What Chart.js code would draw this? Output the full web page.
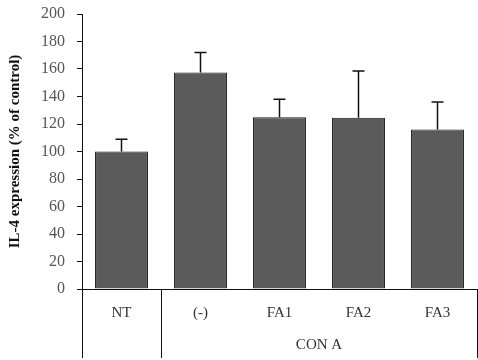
<!DOCTYPE html>
<html>
<head>
<meta charset="utf-8">
<script src="https://cdn.jsdelivr.net/npm/chart.js@4.4.0/dist/chart.umd.min.js"></script>
<style>
    html, body { margin: 0; padding: 0; background: #fff; }
    #wrap { width: 478px; height: 360px; }
</style>
</head>
<body>
<div id="wrap"><canvas id="il4Chart"></canvas></div>
<script>
// ================== DATOS ==================
const categories = ['NT', '(-)', 'FA1', 'FA2', 'FA3'];
const expression = [100, 157.5, 125, 124.5, 116];
const errUpper = [109, 172, 138, 158.5, 136];
const groupLabel = 'CON A';
const groupStart = 1;          // primer índice bajo CON A
const yTicks = [0, 20, 40, 60, 80, 100, 120, 140, 160, 180, 200];

const serif = '"Liberation Serif", "Times New Roman", serif';

// barras de error (solo hacia arriba)
const errorBars = {
    id: 'errorBars',
    afterDatasetsDraw(chart) {
        const ctx = chart.ctx;
        const meta = chart.getDatasetMeta(0);
        const y = chart.scales.y;
        ctx.save();
        ctx.strokeStyle = '#111';
        ctx.lineWidth = 1.5;
        meta.data.forEach((bar, i) => {
            const top = y.getPixelForValue(errUpper[i]);
            ctx.beginPath();
            ctx.moveTo(bar.x, bar.y);
            ctx.lineTo(bar.x, top);
            ctx.moveTo(bar.x - 6, top);
            ctx.lineTo(bar.x + 6, top);
            ctx.stroke();
        });
        ctx.restore();
    }
};

// líneas de agrupación y etiqueta CON A
const groupLines = {
    id: 'groupLines',
    afterDraw(chart) {
        const ctx = chart.ctx;
        const x = chart.scales.x;
        const area = chart.chartArea;
        const bottom = chart.height - 2;
        ctx.save();
        ctx.strokeStyle = '#111';
        ctx.lineWidth = 1;
        [-0.5, groupStart - 0.5, categories.length - 0.5].forEach(v => {
            const px = Math.round(x.getPixelForValue(v)) + 0.5;
            ctx.beginPath();
            ctx.moveTo(px, area.bottom);
            ctx.lineTo(px, bottom);
            ctx.stroke();
        });
        // pequeño tick a la izquierda del cero
        ctx.beginPath();
        ctx.moveTo(area.left - 5, area.bottom + 0.5);
        ctx.lineTo(area.left, area.bottom + 0.5);
        ctx.stroke();

        const cx = x.getPixelForValue((groupStart + categories.length - 1) / 2);
        ctx.fillStyle = '#333';
        ctx.font = '15px ' + serif;
        ctx.textAlign = 'center';
        ctx.textBaseline = 'middle';
        ctx.fillText(groupLabel, cx, 345);
        ctx.restore();
    }
};

const ctx = document.getElementById('il4Chart').getContext('2d');
new Chart(ctx, {
    type: 'bar',
    data: {
        labels: categories,
        datasets: [{
            data: expression,
            backgroundColor: '#5b5b5b',
            borderColor: '#1a1a1a',
            borderWidth: 1,
            categoryPercentage: 1,
            barPercentage: 0.67
        }]
    },
    options: {
        responsive: true,
        maintainAspectRatio: false,
        animation: false,
        layout: { padding: { top: 14, right: 1, left: 0, bottom: 0 } },
        plugins: {
            legend: { display: false },
            tooltip: { enabled: false }
        },
        scales: {
            x: {
                grid: { display: false, drawTicks: false },
                border: { color: '#111', width: 1 },
                ticks: {
                    color: '#333',
                    padding: 15,
                    font: { family: serif, size: 15 }
                },
                afterFit: scale => { scale.height = 71; }
            },
            y: {
                min: 0,
                max: 200,
                afterBuildTicks: scale => { scale.ticks = yTicks.map(v => ({ value: v })); },
                grid: { drawOnChartArea: false, drawTicks: true, tickLength: 5, color: '#111' },
                border: { color: '#111', width: 1 },
                ticks: {
                    color: '#555',
                    padding: 12,
                    font: { family: serif, size: 16 }
                },
                title: {
                    display: true,
                    text: 'IL-4 expression (% of control)',
                    color: '#111',
                    font: { family: serif, size: 15, weight: 'bold' },
                    padding: { top: 6, bottom: 0 }
                },
                afterFit: scale => {
                    scale.width = 82;
                    scale.paddingTop = 0;
                    scale.paddingBottom = 0;
                }
            }
        }
    },
    plugins: [errorBars, groupLines]
});
</script>
</body>
</html>
